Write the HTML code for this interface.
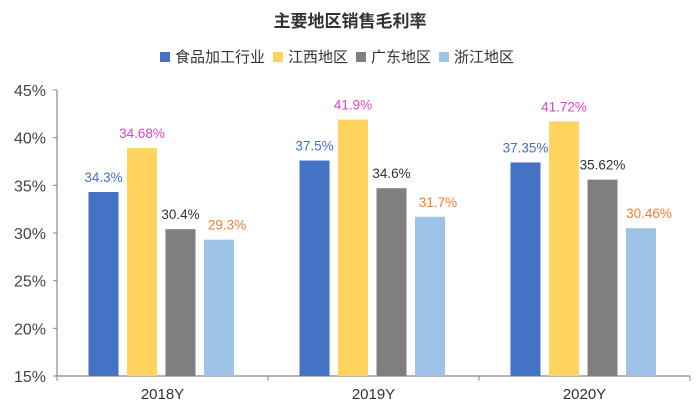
<!DOCTYPE html>
<html><head><meta charset="utf-8">
<style>
body{margin:0;background:#fff;}
svg{display:block;font-family:"Liberation Sans","Noto Sans CJK SC",sans-serif;}
</style></head>
<body>
<svg id="chart" width="700" height="413">
<text x="350" y="27" text-anchor="middle" font-size="17" font-weight="bold" fill="#333">主要地区销售毛利率</text>
<g id="legend"></g>
<g id="axes"></g>
<g id="bars"></g>
</svg>
<script>
const categories = ["2018Y","2019Y","2020Y"];
const seriesNames = ["食品加工行业","江西地区","广东地区","浙江地区"];
const foodValues = [34.3,37.6,37.4];
const jiangxiValues = [38.9,41.9,41.7];
const guangdongValues = [30.4,34.7,35.6];
const zhejiangValues = [29.3,31.7,30.5];
const foodLabels = ["34.3%","37.5%","37.35%"];
const jiangxiLabels = ["34.68%","41.9%","41.72%"];
const guangdongLabels = ["30.4%","34.6%","35.62%"];
const zhejiangLabels = ["29.3%","31.7%","30.46%"];
const yTicks = [15,20,25,30,35,40,45];

const NS="http://www.w3.org/2000/svg";
const svg=document.getElementById('chart');
const colors=["#4472C4","#FFD45E","#7F7F7F","#9DC3E6"];
const labelColors=["#4472C4","#E23FCB","#333333","#ED7D31"];
const allVals=[foodValues,jiangxiValues,guangdongValues,zhejiangValues];
const allLabels=[foodLabels,jiangxiLabels,guangdongLabels,zhejiangLabels];
const x0=57,x1=690,yTop=90,yBot=376,yMin=15,yMax=45;
const y=v=>yBot-(v-yMin)/(yMax-yMin)*(yBot-yTop);
const groupW=(x1-x0)/categories.length;
const xc=i=>x0+groupW*(i+0.5);
const barW=30,step=38.5;
function mk(tag,attrs,parent){const e=document.createElementNS(NS,tag);for(const k in attrs)e.setAttribute(k,attrs[k]);(parent||svg).appendChild(e);return e;}

const axes=document.getElementById('axes');
const ya=mk('line',{x1:x0,x2:x0,y1:yTop,y2:yBot,stroke:'#888','stroke-width':1.2},axes);


const xa=mk('line',{x1:x0,x2:x1,y1:yBot,y2:yBot,stroke:'#888','stroke-width':1.2},axes);


yTicks.forEach(t=>{
  mk('line',{x1:x0-4,x2:x0,y1:y(t),y2:y(t),stroke:'#888'},axes);
  const tx=mk('text',{x:46,y:y(t)+6,'text-anchor':'end','font-size':16,fill:'#444'},axes);
  tx.textContent=t+'%';
  
  
});
for(let i=0;i<=categories.length;i++){
  mk('line',{x1:x0+groupW*i,x2:x0+groupW*i,y1:yBot,y2:yBot+5,stroke:'#888'},axes);
}
categories.forEach((c,i)=>{
  const tx=mk('text',{x:xc(i),y:yBot+23,'text-anchor':'middle','font-size':15,fill:'#333'},axes);
  tx.textContent=c;
  
  
});
const bars=document.getElementById('bars');
categories.forEach((c,i)=>{
  allVals.forEach((vals,s)=>{
    const bx=xc(i)-74+step*s;
    const r=mk('rect',{x:bx,y:y(vals[i]),width:barW,height:yBot-y(vals[i]),fill:colors[s]},bars);
    
    
    let lx=bx+barW/2,ly=y(vals[i])-10;
    if(s===3){lx+=8;}
    const t=mk('text',{x:lx,y:ly,'text-anchor':'middle','font-size':13.5,fill:labelColors[s]},bars);
    t.textContent=allLabels[s][i];
    
    
  });
});
const lg=document.getElementById('legend');
let lx=160;
seriesNames.forEach((n,s)=>{
  const r=mk('rect',{x:lx,y:52,width:10,height:10,fill:colors[s]},lg);
  
  
  const t=mk('text',{x:lx+15,y:62,'font-size':15,fill:'#333'},lg);
  t.textContent=n;
  
  
  lx+=15+n.length*15+8;
});
</script>
</body></html>
